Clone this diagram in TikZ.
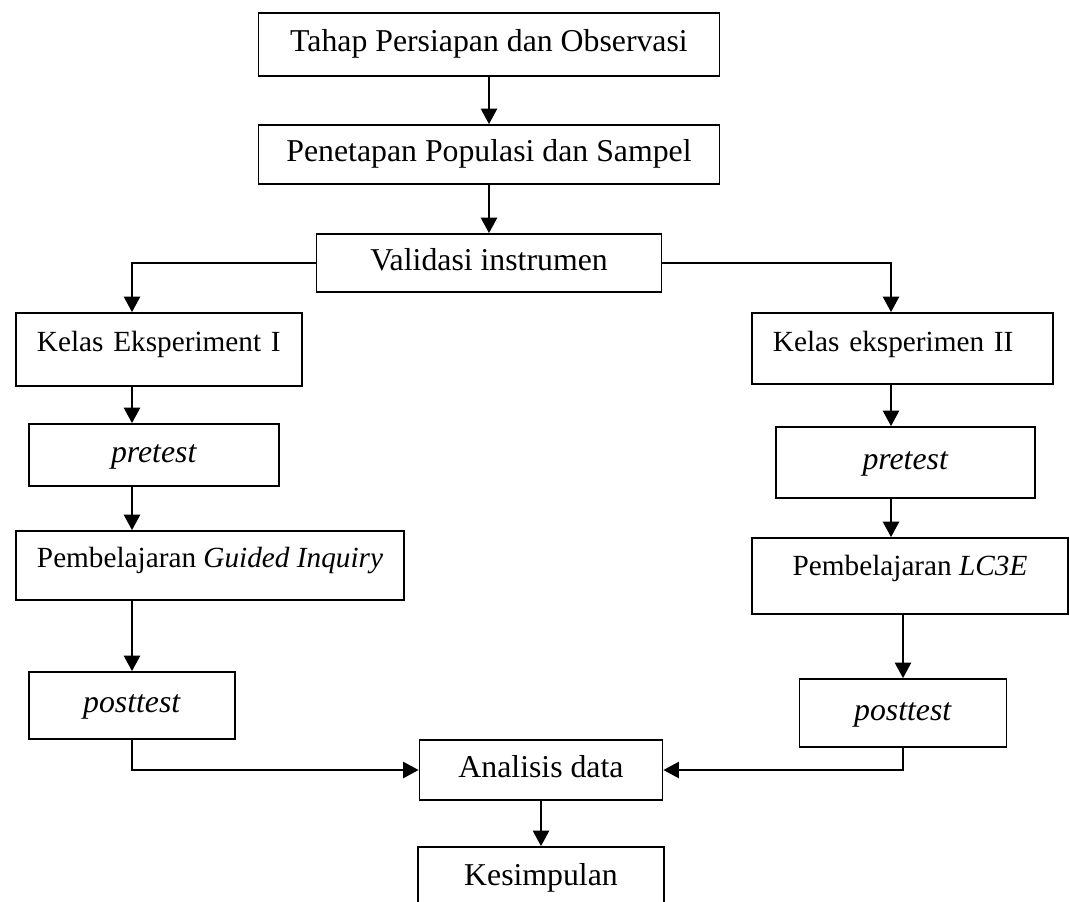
\documentclass[tikz,border=0pt]{standalone}
\usepackage{fontspec}
\setmainfont{Liberation Serif}
\usetikzlibrary{arrows.meta}

\tikzset{
	kotak/.style={draw, line width=1.25pt, inner sep=0pt, font=\fontsize{22.6}{27}\selectfont, text height=15.5pt, text depth=5pt},
	kecil/.style={font=\fontsize{20.8}{25}\selectfont},
	teksnaik/.style={text depth=#1},
	kiri/.style={text width=#1, align=left},
	panah/.style={line width=1.4pt, -{Triangle[length=11pt,width=11.5pt]}}
}

\begin{document}
\begin{tikzpicture}[x=0.025cm,y=-0.025cm]
				\useasboundingbox (0,0) rectangle (1070,901);
				\clip (0,0) rectangle (1070,901);
				\node[kotak, minimum width=11.525cm, minimum height=1.575cm] (tahap) at (489,44.5) {Tahap Persiapan dan Observasi};
				\node[kotak, minimum width=11.525cm, minimum height=1.475cm] (penetapan) at (489,154.5) {Penetapan Populasi dan Sampel};
				\node[kotak, minimum width=8.625cm, minimum height=1.45cm] (validasi) at (489,263) {Validasi instrumen};
				\node[kotak, kecil, kiri=6.1cm, teksnaik=12pt, minimum width=7.15cm, minimum height=1.825cm] (kelas1) at (159,349.5) {\mbox{Kelas Eksperiment I}};
				\node[kotak, kecil, kiri=6.475cm, teksnaik=10.7pt, minimum width=7.525cm, minimum height=1.775cm] (kelas2) at (902.5,348.5) {\mbox{Kelas eksperimen II}};
				\node[kotak, minimum width=6.25cm, minimum height=1.55cm] (pretest1) at (154,455) {\textit{pretest}};
				\node[kotak, minimum width=6.475cm, minimum height=1.775cm] (pretest2) at (905.5,462.5) {\textit{pretest}};
				\node[kotak, kecil, teksnaik=12.4pt, minimum width=9.7cm, minimum height=1.725cm] (gi) at (210,565.5) {Pembelajaran \textit{Guided Inquiry}};
				\node[kotak, kecil, teksnaik=16pt, minimum width=7.9cm, minimum height=1.9cm] (lc3e) at (910,576) {Pembelajaran \textit{LC3E}};
				\node[kotak, minimum width=5.15cm, minimum height=1.675cm] (posttest1) at (132,705.5) {\textit{posttest}};
				\node[kotak, minimum width=5.175cm, minimum height=1.7cm] (posttest2) at (903,713) {\textit{posttest}};
				\node[kotak, minimum width=6.075cm, minimum height=1.5cm] (analisis) at (541,770) {Analisis data};
				\node[kotak, minimum width=6.15cm, minimum height=1.55cm] (kesimpulan) at (541,878) {Kesimpulan};
				\coordinate (kiri) at (132,0);
				\coordinate (kanan) at (891,0);
				\draw[panah] (tahap) -- (penetapan);
				\draw[panah] (penetapan) -- (validasi);
				\draw[panah] (validasi.west) -| (kelas1.north -| kiri);
				\draw[panah] (kelas1.south -| kiri) -- (pretest1.north -| kiri);
				\draw[panah] (pretest1.south -| kiri) -- (gi.north -| kiri);
				\draw[panah] (gi.south -| kiri) -- (posttest1.north -| kiri);
				\draw[panah] (posttest1.south) |- (analisis.west);
				\draw[panah] (validasi.east) -| (kelas2.north -| kanan);
				\draw[panah] (kelas2.south -| kanan) -- (pretest2.north -| kanan);
				\draw[panah] (pretest2.south -| kanan) -- (lc3e.north -| kanan);
				\draw[panah] (lc3e.south -| posttest2.north) -- (posttest2.north);
				\draw[panah] (posttest2.south) |- (analisis.east);
				\draw[panah] (analisis) -- (kesimpulan);
\end{tikzpicture}
\end{document}
